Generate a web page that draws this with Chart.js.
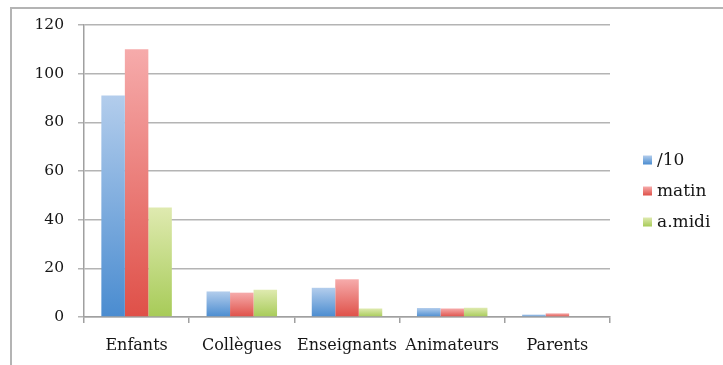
<!DOCTYPE html>
<html>
<head>
<meta charset="utf-8">
<script src="https://cdn.jsdelivr.net/npm/chart.js@4/dist/chart.umd.min.js"></script>
<style>
  html, body { margin: 0; padding: 0; background: #fff; }
  #wrap { position: relative; width: 723px; height: 365px; overflow: hidden; }
  #frame { position: absolute; left: 10px; top: 7px; width: 760px; height: 400px;
           border-left: 2px solid #b4b4b4; border-top: 2px solid #b4b4b4; }
  canvas { position: absolute; left: 0; top: 0; }
</style>
</head>
<body>
<div id="wrap">
  <div id="frame"></div>
  <canvas id="c" width="723" height="365"></canvas>
</div>
<script>
// Categories and series
const categories = ["Enfants", "Collègues", "Enseignants", "Animateurs", "Parents"];
const seriesNames = ["/10", "matin", "a.midi"];
const dix   = [91, 10.5, 12, 3.7, 1];
const matin = [110, 10, 15.5, 3.5, 1.5];
const midi  = [45, 11.2, 3.5, 3.8, 0];
const yTicks = [0, 20, 40, 60, 80, 100, 120];

// light (top) -> dark (bottom) colour pairs for each series
const shades = [
  ["#b3cdec", "#4a8cd0"],
  ["#f6abab", "#df5048"],
  ["#dfeab0", "#a7cb58"]
];

const FONT = "'DejaVu Serif', serif";
const TEXT = '#161616';

function barGradient(i) {
  return function (ctx) {
    const chart = ctx.chart;
    const y = chart.scales.y;
    if (!y || ctx.type !== 'data') return shades[i][1];
    const v = ctx.parsed ? ctx.parsed.y : 0;
    const top = y.getPixelForValue(v);
    const bot = y.getPixelForValue(0);
    if (!isFinite(top) || bot - top < 1) return shades[i][1];
    const g = chart.ctx.createLinearGradient(0, top, 0, bot);
    g.addColorStop(0, shades[i][0]);
    g.addColorStop(1, shades[i][1]);
    return g;
  };
}

// Legend drawn at the right of the plot
const sideLegend = {
  id: 'sideLegend',
  afterDraw(chart) {
    const ctx = chart.ctx;
    ctx.save();
    ctx.font = "17px " + FONT;
    ctx.textBaseline = 'middle';
    chart.data.datasets.forEach((ds, i) => {
      const cy = 160 + i * 31;
      const g = ctx.createLinearGradient(0, cy - 4.5, 0, cy + 4.5);
      g.addColorStop(0, shades[i][0]);
      g.addColorStop(1, shades[i][1]);
      ctx.fillStyle = g;
      ctx.fillRect(643, cy - 4.5, 9, 9);
      ctx.fillStyle = TEXT;
      ctx.fillText(ds.label, 657, cy + 1);
    });
    ctx.restore();
  }
};

const data = {
  labels: categories,
  datasets: [dix, matin, midi].map((vals, i) => ({
    label: seriesNames[i],
    data: vals,
    backgroundColor: barGradient(i),
    borderWidth: 0,
    barPercentage: 1.0,
    categoryPercentage: 0.67
  }))
};

new Chart(document.getElementById('c'), {
  type: 'bar',
  data: data,
  options: {
    responsive: false,
    animation: false,
    layout: { padding: { left: 10, top: 25, right: 113, bottom: 0 } },
    plugins: { legend: { display: false }, tooltip: { enabled: false } },
    scales: {
      x: {
        offset: true,
        grid: { offset: true, drawOnChartArea: false, drawTicks: true, tickLength: 6, color: '#a0a0a0', lineWidth: 1.5 },
        border: { color: '#a0a0a0', width: 1.5 },
        ticks: { color: TEXT, padding: 13, maxRotation: 0, minRotation: 0, autoSkip: false,
                 font: { family: FONT, size: 16 } },
        afterFit(s) { s.height = 48; }
      },
      y: {
        min: 0, max: 120,
        afterBuildTicks(s) { s.ticks = yTicks.map(v => ({ value: v })); },
        grid: { color: '#b4b4b4', lineWidth: 1.5, drawTicks: true, tickLength: 6 },
        border: { color: '#a0a0a0', width: 1.5 },
        ticks: { color: TEXT, padding: 14, font: { family: FONT, size: 15.5 } },
        afterFit(s) { s.width = 74; }
      }
    }
  },
  plugins: [sideLegend]
});
</script>
</body>
</html>
